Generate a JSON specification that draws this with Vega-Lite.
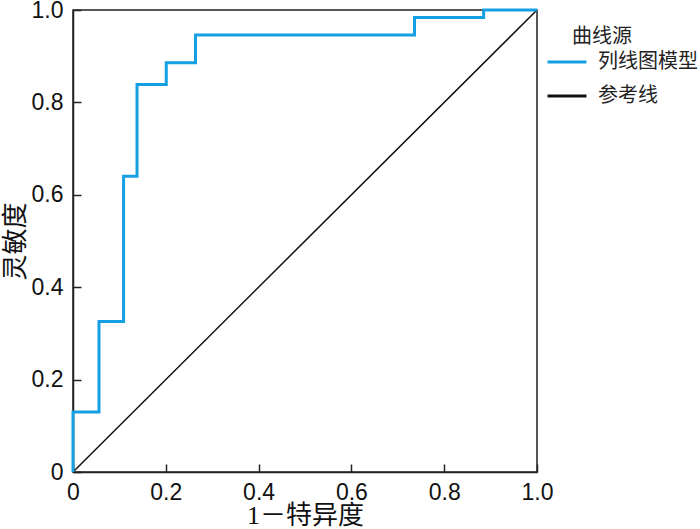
{
  "$schema": "https://vega.github.io/schema/vega-lite/v6.json",
  "width": 464,
  "height": 462,
  "autosize": "none",
  "padding": {"left": 73, "top": 10, "right": 163, "bottom": 57},
  "background": "white",
  "config": {
    "view": {"stroke": "#222", "strokeWidth": 1.5},
    "axis": {
      "grid": false,
      "domainColor": "#222",
      "domainWidth": 1.5,
      "tickColor": "#222",
      "tickWidth": 1.5,
      "tickSize": -8,
      "labelFont": "Liberation Sans",
      "labelFontSize": 23,
      "labelColor": "#111",
      "titleFont": "Liberation Serif, Noto Sans CJK SC",
      "titleFontSize": 26,
      "titleFontWeight": "normal",
      "titleColor": "#111"
    },
    "legend": {
      "titleFont": "Noto Sans CJK SC",
      "titleFontSize": 20,
      "titleFontWeight": "normal",
      "titleColor": "#222",
      "labelFont": "Noto Sans CJK SC",
      "labelFontSize": 20,
      "labelColor": "#222"
    }
  },
  "datasets": {
    "roc": [
      {"fpr": 0, "tpr": 0, "series": "列线图模型"},
      {"fpr": 0, "tpr": 0.13, "series": "列线图模型"},
      {"fpr": 0.056, "tpr": 0.326, "series": "列线图模型"},
      {"fpr": 0.109, "tpr": 0.64, "series": "列线图模型"},
      {"fpr": 0.138, "tpr": 0.839, "series": "列线图模型"},
      {"fpr": 0.201, "tpr": 0.886, "series": "列线图模型"},
      {"fpr": 0.264, "tpr": 0.946, "series": "列线图模型"},
      {"fpr": 0.736, "tpr": 0.984, "series": "列线图模型"},
      {"fpr": 0.885, "tpr": 1, "series": "列线图模型"},
      {"fpr": 1, "tpr": 1, "series": "列线图模型"}
    ],
    "ref": [
      {"fpr": 0, "tpr": 0, "series": "参考线"},
      {"fpr": 1, "tpr": 1, "series": "参考线"}
    ]
  },
  "encoding": {
    "x": {
      "field": "fpr", "type": "quantitative",
      "scale": {"domain": [0, 1], "nice": false},
      "axis": {"values": [0, 0.2, 0.4, 0.6, 0.8, 1], "labelExpr": "datum.value == 0 ? '0' : format(datum.value, '.1f')", "title": "1－特异度", "labelPadding": 17, "titlePadding": -2, "labelFlush": false}
    },
    "y": {
      "field": "tpr", "type": "quantitative",
      "scale": {"domain": [0, 1], "nice": false},
      "axis": {"values": [0, 0.2, 0.4, 0.6, 0.8, 1], "labelExpr": "datum.value == 0 ? '0' : format(datum.value, '.1f')", "title": "灵敏度", "labelPadding": 18, "titlePadding": 3, "labelFlush": false}
    },
    "color": {
      "field": "series", "type": "nominal",
      "scale": {"domain": ["列线图模型", "参考线"], "range": ["#14a0e2", "#111111"]},
      "legend": {
        "title": "曲线源",
        "orient": "none",
        "legendX": 473,
        "legendY": 17,
        "titleAnchor": "start",
        "titlePadding": -6,
        "symbolType": "stroke",
        "symbolSize": 1521,
        "symbolStrokeWidth": 3,
        "labelOffset": 10,
        "rowPadding": 3,
        "encode": {"title": {"update": {"dx": {"value": 26}}}}
      }
    }
  },
  "layer": [
    {"data": {"name": "ref"}, "mark": {"type": "line", "strokeWidth": 1.5}},
    {"data": {"name": "roc"}, "mark": {"type": "line", "strokeWidth": 3, "interpolate": "step-after"}}
  ]
}
